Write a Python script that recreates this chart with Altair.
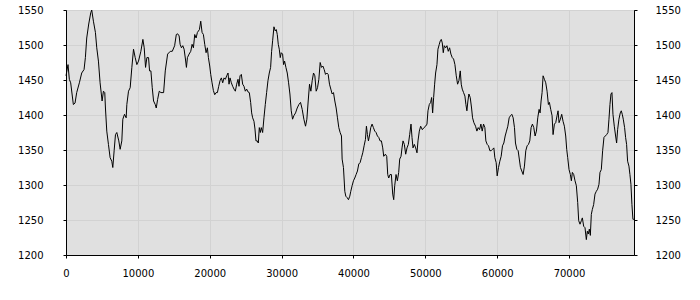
import altair as alt
import pandas as pd

# ---- series (sample index, value) ----
idx_a = [0, 279, 465, 651, 1023, 1256, 1488, 1860, 2186, 2512, 2698, 2884, 3163, 3442, 3581, 3814,
         4093, 4279, 4512, 4744, 5023, 5209, 5395, 5488, 5674, 5907, 6140, 6372, 6512, 6698, 6884,
         7070, 7349, 7535, 7767, 7907, 8140, 8372, 8465, 8698, 8930, 9163, 9395, 9628, 9860, 10093,
         10419, 10698, 10884, 11070, 11256, 11488, 11628, 11814, 12000, 12186, 12419, 12558, 12744,
         12977, 13209, 13581, 13814, 14140, 14512, 14791, 15116, 15349, 15535]
val_a = [1456, 1472, 1451, 1446, 1415, 1417, 1432, 1446, 1460, 1465, 1482, 1510, 1530, 1546, 1550, 1534,
         1518, 1496, 1477, 1446, 1420, 1434, 1432, 1410, 1377, 1358, 1339, 1334, 1325, 1349, 1372,
         1375, 1363, 1351, 1363, 1394, 1401, 1396, 1415, 1434, 1439, 1468, 1494, 1482, 1472, 1477,
         1491, 1508, 1496, 1468, 1482, 1482, 1463, 1463, 1439, 1420, 1415, 1410, 1422,
         1434, 1432, 1432, 1463, 1487, 1491, 1491, 1499, 1515, 1516]

idx_b = [15740, 15879, 16064, 16250, 16435, 16620, 16759, 16898, 17129, 17361, 17546, 17731, 17916,
         18102, 18287, 18565, 18750, 18935, 19120, 19305, 19491, 19676, 19815, 20000, 20139, 20324,
         20509, 20695, 20880, 21065, 21250, 21435, 21621, 21806, 21991, 22176, 22361, 22547, 22685,
         22824, 23010, 23195, 23380, 23565, 23750, 23936, 24074, 24213, 24399, 24584, 24769, 24954,
         25139, 25325, 25510, 25695, 25834, 25973, 26158, 26297, 26436, 26621, 26760, 26899, 27038,
         27177, 27362, 27547, 27732, 27917, 28103, 28288, 28473, 28612, 28751, 28936, 29121, 29260,
         29399, 29538, 29677, 29816, 29955, 30140, 30279, 30418, 30603, 30788, 30973, 31158, 31344, 31529]
val_b = [1513, 1501, 1496, 1499, 1494, 1480, 1468, 1482, 1487, 1491, 1501, 1496, 1515,
         1510, 1518, 1522, 1534, 1518, 1515, 1501, 1489, 1496, 1482, 1470, 1458, 1446,
         1435, 1429, 1432, 1432, 1441, 1449, 1453, 1446, 1453, 1451, 1456, 1460, 1444,
         1453, 1446, 1441, 1437, 1434, 1444, 1451, 1441, 1456, 1458, 1444, 1441, 1434,
         1437, 1433, 1432, 1418, 1403, 1396, 1391, 1380, 1363, 1363, 1360, 1382, 1375,
         1382, 1375, 1396, 1415, 1432, 1449, 1460, 1468, 1491, 1506, 1526, 1520, 1522,
         1515, 1501, 1494, 1482, 1489, 1487, 1472, 1477, 1468, 1460, 1446, 1430, 1406, 1394]

idx_c = [31712, 31944, 32175, 32407, 32638, 32870, 33101, 33333, 33518, 33703, 33888, 34074, 34259,
         34444, 34629, 34814, 35000, 35185, 35370, 35555, 35740, 35926, 36111, 36296, 36481, 36666,
         36852, 37037, 37222, 37407, 37592, 37778, 37963, 38148, 38333, 38426, 38611, 38796, 38935,
         39120, 39305, 39491, 39630, 39815, 40000, 40185, 40370, 40556, 40741, 40926, 41111, 41296,
         41482, 41667, 41806, 41945, 42084, 42222, 42408, 42593, 42778, 42963, 43148, 43334, 43519,
         43704, 43889, 44074, 44213, 44445, 44630, 44769, 44908, 45093, 45278, 45463, 45602, 45741,
         45926, 46112, 46297, 46436, 46621, 46760, 46899, 47084]
val_c = [1399, 1403, 1410, 1415, 1418, 1408, 1394, 1384, 1394, 1420, 1444, 1434, 1449,
         1460, 1456, 1434, 1439, 1451, 1475, 1468, 1470, 1465, 1458, 1460, 1458, 1444,
         1437, 1430, 1432, 1420, 1410, 1396, 1382, 1375, 1370, 1337, 1325, 1291, 1284,
         1282, 1279, 1284, 1291, 1299, 1306, 1310, 1315, 1320, 1330, 1332, 1339, 1346,
         1356, 1365, 1384, 1372, 1363, 1370, 1382, 1387, 1382, 1377, 1375, 1370, 1368,
         1363, 1363, 1353, 1341, 1344, 1341, 1315, 1310, 1315, 1315, 1287, 1279, 1299,
         1315, 1306, 1318, 1337, 1341, 1353, 1363, 1358]

idx_d = [47268, 47453, 47639, 47824, 48009, 48148, 48287, 48472, 48657, 48842, 48981, 49167, 49352,
         49583, 49815, 50046, 50232, 50370, 50556, 50741, 50880, 51019, 51158, 51296, 51435, 51621,
         51759, 51945, 52084, 52222, 52361, 52500, 52639, 52824, 53010, 53195, 53380, 53565, 53750,
         53936, 54121, 54306, 54491, 54676, 54862, 55000, 55139, 55325, 55510, 55649, 55788, 55926,
         56065, 56251, 56436, 56575, 56760, 56991, 57177, 57362, 57547, 57732, 57917, 58103, 58288,
         58427, 58612, 58797, 58982, 59167, 59353, 59538, 59677, 59862, 60001, 60186, 60371, 60556,
         60742, 60927, 61112, 61297, 61482, 61668, 61853, 62038, 62223, 62408, 62547, 62733, 62918]
val_d = [1344, 1353, 1358, 1372, 1387, 1368, 1353, 1358, 1353, 1346, 1363, 1377, 1384,
         1379, 1382, 1384, 1387, 1406, 1415, 1418, 1425, 1403, 1425, 1444, 1460, 1472,
         1494, 1501, 1506, 1508, 1503, 1489, 1499, 1496, 1499, 1491, 1496, 1487, 1482,
         1480, 1472, 1456, 1444, 1449, 1463, 1444, 1437, 1432, 1427, 1415, 1406, 1420,
         1430, 1425, 1410, 1396, 1389, 1384, 1377, 1382, 1379, 1387, 1377, 1387, 1382,
         1363, 1358, 1356, 1349, 1349, 1351, 1353, 1339, 1332, 1313, 1325, 1334, 1341,
         1356, 1360, 1370, 1377, 1384, 1396, 1399, 1401, 1396, 1382, 1360, 1351, 1349]

idx_e = [63240, 63425, 63611, 63796, 63981, 64166, 64351, 64537, 64722, 64907, 65092, 65277, 65463,
         65648, 65833, 65972, 66111, 66250, 66389, 66574, 66759, 66944, 67129, 67268, 67453, 67639,
         67778, 67963, 68148, 68333, 68472, 68611, 68796, 68981, 69167, 69352, 69537, 69676, 69815,
         70000, 70185, 70324, 70463, 70648, 70833, 71019, 71204, 71343, 71528, 71713, 71852, 72037,
         72222, 72408, 72547, 72685, 72824, 72963, 73102, 73241, 73426, 73611, 73797, 73982, 74167,
         74306, 74491, 74676, 74862, 75047, 75232, 75417, 75556, 75695, 75834, 75973, 76112, 76297,
         76482, 76621, 76760, 76945, 77130, 77269, 77408, 77547, 77732, 77871, 78010, 78149, 78334,
         78473, 78612, 78751, 78890, 79029]
val_e = [1325, 1320, 1315, 1327, 1349, 1356, 1358, 1363, 1382, 1387, 1382, 1370, 1377,
         1396, 1408, 1403, 1420, 1432, 1456, 1451, 1446, 1434, 1415, 1418, 1408, 1399,
         1372, 1387, 1389, 1399, 1406, 1389, 1394, 1401, 1391, 1384, 1370, 1351, 1339,
         1322, 1315, 1306, 1318, 1315, 1306, 1299, 1275, 1249, 1244, 1249, 1253, 1241,
         1239, 1222, 1234, 1230, 1237, 1228, 1258, 1265, 1272, 1287, 1291, 1294, 1301,
         1318, 1322, 1349, 1368, 1370, 1372, 1375, 1394, 1415, 1430, 1432, 1401, 1384,
         1370, 1360, 1379, 1394, 1403, 1406, 1401, 1394, 1382, 1368, 1358, 1334, 1327,
         1315, 1301, 1272, 1251, 1251]

x_ticks = [0, 10000, 20000, 30000, 40000, 50000, 60000, 70000]
y_ticks = [1200, 1250, 1300, 1350, 1400, 1450, 1500, 1550]

df = pd.DataFrame({
    "sample": idx_a + idx_b + idx_c + idx_d + idx_e,
    "value": val_a + val_b + val_c + val_d + val_e,
})

FONT = "DejaVu Sans"
common_axis = dict(
    title=None,
    format="d",
    labelFont=FONT,
    labelFontSize=10,
    labelColor="black",
    domainColor="black",
    domainWidth=1,
    tickColor="black",
    tickSize=3,
    labelFlush=False,
    labelOverlap=False,
)

x_scale = alt.Scale(domain=[0, 79040], nice=False, zero=False)
y_scale = alt.Scale(domain=[1200, 1550], nice=False, zero=False)

x_enc = alt.X(
    "sample:Q",
    scale=x_scale,
    axis=alt.Axis(values=x_ticks, grid=True, gridColor="#d2d2d2",
                  labelPadding=10, **common_axis),
)

left = alt.Chart(df).mark_line(color="black", strokeWidth=1).encode(
    x=x_enc,
    y=alt.Y("value:Q", scale=y_scale,
            axis=alt.Axis(values=y_ticks, orient="left", grid=True, gridColor="#d2d2d2",
                          labelPadding=20, **common_axis)),
)

right = alt.Chart(df).mark_line(color="black", strokeOpacity=0).encode(
    x=x_enc,
    y=alt.Y("value:Q", scale=y_scale,
            axis=alt.Axis(values=y_ticks, orient="right", grid=False,
                          labelPadding=18, **common_axis)),
)

chart = (
    alt.layer(left, right)
    .resolve_axis(y="independent")
    .properties(
        width=568,
        height=245,
        autosize=alt.AutoSizeParams(type="none"),
        padding={"left": 66, "top": 10, "right": 66, "bottom": 45},
        background="white",
    )
    .configure_view(fill="#e0e0e0", stroke="black", strokeWidth=1)
)

chart.save("out.html", embed_options={"renderer": "svg", "actions": False})
